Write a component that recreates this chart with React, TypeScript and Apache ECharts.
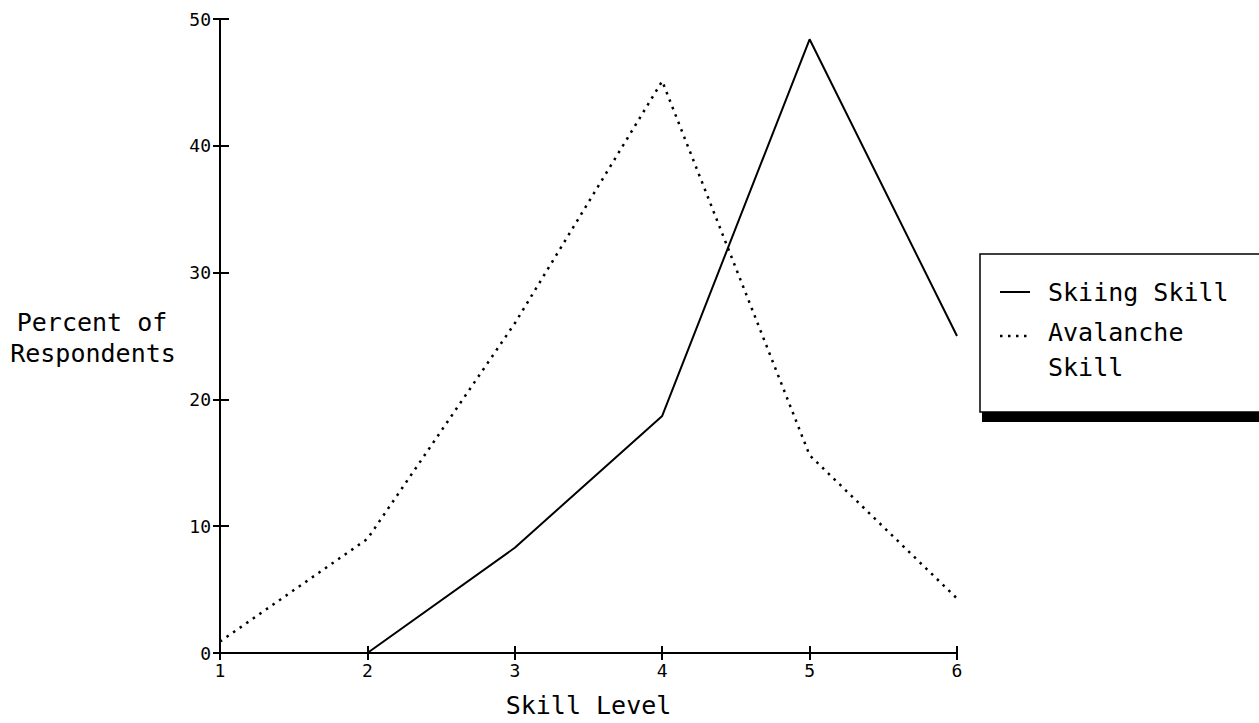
import React, { useEffect, useRef } from "react";
import * as echarts from "echarts";

const skillLevels = [1, 2, 3, 4, 5, 6];
const skiingSkill = [0, 0, 8.3, 18.7, 48.4, 25.0];
const avalancheSkill = [0.9, 9.0, 26.0, 45.1, 15.6, 4.3];
const yTicks = { min: 0, max: 50, interval: 10 };

const FONT = "'DejaVu Sans Mono', 'Liberation Mono', monospace";

export default function App() {
  const ref = useRef<HTMLDivElement>(null);
  useEffect(() => {
    document.body.style.margin = "0";
    if (!ref.current) return;
    const chart = echarts.init(ref.current, null, { renderer: "svg" });
    const pairs = (ys: number[]) => skillLevels.map((x, i) => [x, ys[i]]);
    chart.setOption({
      animation: false,
      backgroundColor: "#ffffff",
      grid: { left: 220, width: 737, top: 19, height: 640, containLabel: false },
      xAxis: [
        {
          type: "value",
          min: 1,
          max: 6,
          interval: 1,
          name: "Skill Level",
          nameLocation: "middle",
          nameGap: 40,
          nameTextStyle: { fontFamily: FONT, fontSize: 25, color: "#000" },
          axisLine: { show: true, onZero: false, lineStyle: { color: "#000", width: 2 } },
          axisTick: { show: true, length: 7, lineStyle: { color: "#000", width: 2 } },
          axisLabel: { fontFamily: FONT, fontSize: 18, color: "#000", margin: 8 },
          splitLine: { show: false },
        },
        {
          type: "value",
          min: 1,
          max: 6,
          interval: 1,
          position: "bottom",
          axisLine: { show: false },
          axisTick: { show: true, inside: true, length: 7, lineStyle: { color: "#000", width: 2 } },
          axisLabel: { show: false },
          splitLine: { show: false },
        },
      ],
      yAxis: [
        {
          type: "value",
          min: yTicks.min,
          max: yTicks.max,
          interval: yTicks.interval,
          axisLine: { show: true, onZero: false, lineStyle: { color: "#000", width: 2 } },
          axisTick: { show: true, length: 7, lineStyle: { color: "#000", width: 2 } },
          axisLabel: { fontFamily: FONT, fontSize: 18, color: "#000", margin: 9 },
          splitLine: { show: false },
        },
        {
          type: "value",
          min: yTicks.min,
          max: yTicks.max,
          interval: yTicks.interval,
          position: "left",
          axisLine: { show: false },
          axisTick: { show: true, inside: true, length: 9, lineStyle: { color: "#000", width: 2 } },
          axisLabel: { show: false },
          splitLine: { show: false },
        },
      ],
      series: [
        {
          name: "Skiing Skill",
          type: "line",
          data: pairs(skiingSkill),
          symbol: "none",
          lineStyle: { color: "#000", width: 2 },
          z: 3,
        },
        {
          name: "Avalanche Skill",
          type: "line",
          data: pairs(avalancheSkill),
          symbol: "none",
          lineStyle: { color: "#000", width: 2.5, type: [2.5, 5.5] },
          z: 3,
        },
      ],
      graphic: [
        {
          type: "text",
          x: 92,
          y: 322,
          style: {
            text: "Percent of",
            fontFamily: FONT,
            fontSize: 25,
            fill: "#000",
            align: "center",
            verticalAlign: "middle",
          },
        },
        {
          type: "text",
          x: 93,
          y: 353,
          style: {
            text: "Respondents",
            fontFamily: FONT,
            fontSize: 25,
            fill: "#000",
            align: "center",
            verticalAlign: "middle",
          },
        },
        {
          type: "rect",
          shape: { x: 982, y: 412, width: 290, height: 10 },
          style: { fill: "#000" },
        },
        {
          type: "rect",
          shape: { x: 980, y: 254, width: 300, height: 158 },
          style: { fill: "#fff", stroke: "#000", lineWidth: 1.5 },
        },
        {
          type: "line",
          shape: { x1: 1000, y1: 292, x2: 1030, y2: 292 },
          style: { stroke: "#000", lineWidth: 2 },
        },
        {
          type: "text",
          x: 1048,
          y: 292,
          style: {
            text: "Skiing Skill",
            fontFamily: FONT,
            fontSize: 25,
            fill: "#000",
            verticalAlign: "middle",
          },
        },
        {
          type: "line",
          shape: { x1: 1000, y1: 336, x2: 1028, y2: 336 },
          style: { stroke: "#000", lineWidth: 2.5, lineDash: [2.5, 5.5] },
        },
        {
          type: "text",
          x: 1048,
          y: 332,
          style: {
            text: "Avalanche",
            fontFamily: FONT,
            fontSize: 25,
            fill: "#000",
            verticalAlign: "middle",
          },
        },
        {
          type: "text",
          x: 1048,
          y: 367,
          style: {
            text: "Skill",
            fontFamily: FONT,
            fontSize: 25,
            fill: "#000",
            verticalAlign: "middle",
          },
        },
      ],
    });
    return () => chart.dispose();
  }, []);
  return <div ref={ref} style={{ width: 1259, height: 723 }} />;
}
